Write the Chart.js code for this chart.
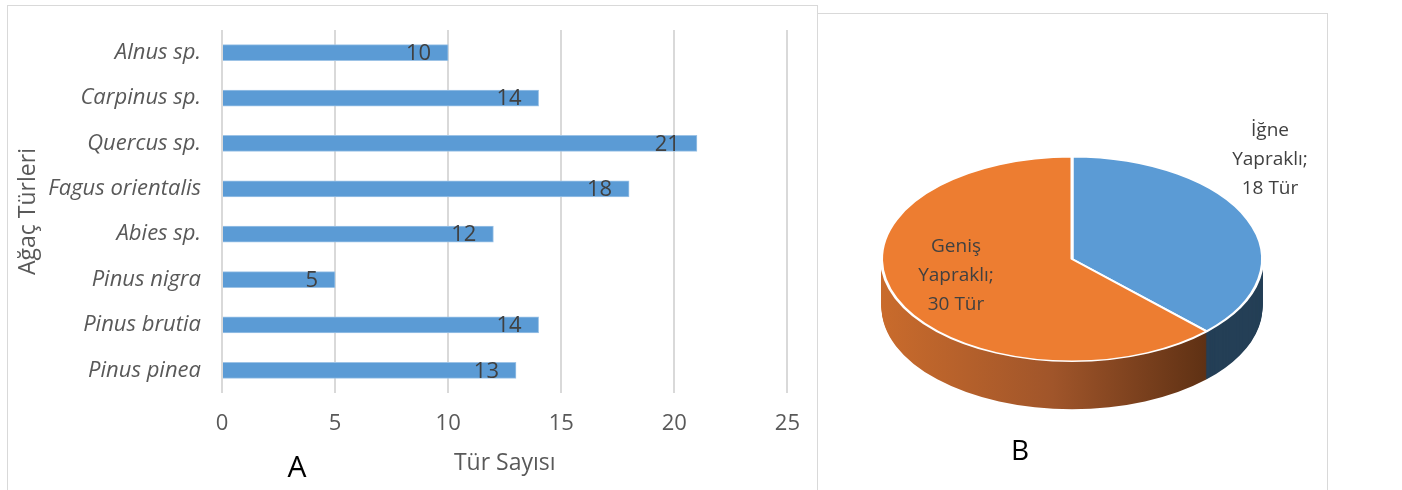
<!DOCTYPE html>
<html>
<head>
<meta charset="utf-8">
<script src="https://cdn.jsdelivr.net/npm/chart.js@4.4.1/dist/chart.umd.min.js"></script>
<style>
  body { margin: 0; background: #fff; width: 1402px; height: 490px; overflow: hidden; position: relative; font-family: 'Open Sans', sans-serif; }
  .box { position: absolute; border: 1.5px solid #d9d9d9; box-sizing: border-box; }
  .wrap { position: absolute; top: 0; height: 490px; }
  .tag { position: absolute; font-size: 30px; color: #000; line-height: 1; transform: translate(-50%, -50%); }
</style>
</head>
<body>
<div class="box" style="left:7px; top:5px; width:811px; height:520px;"></div>
<div class="box" style="left:817px; top:13px; width:511px; height:520px;"></div>
<div class="wrap" style="left:0; width:818px;"><canvas id="barA"></canvas></div>
<div class="wrap" style="left:818px; width:584px;"><canvas id="pieB"></canvas></div>
<div class="tag" style="left:297px; top:466px;">A</div>
<div class="tag" style="left:1020px; top:449px; font-size:28px;">B</div>
<script>
Chart.defaults.font.family = "'Open Sans', sans-serif";

// A - tree species
const agacTurleri = ["Alnus sp.", "Carpinus sp.", "Quercus sp.", "Fagus orientalis", "Abies sp.", "Pinus nigra", "Pinus brutia", "Pinus pinea"];
const turSayisi = [10, 14, 21, 18, 12, 5, 14, 13];
const xTicks = [0, 5, 10, 15, 20, 25];

// B - leaf type
const yaprakTipi = ["İğne Yapraklı", "Geniş Yapraklı"];
const yaprakSayisi = [18, 30];

const gray = "#595959";

// value labels at the inner end of each bar
const barLabels = {
  id: "barLabels",
  afterDatasetsDraw(chart) {
    const ctx = chart.ctx;
    ctx.save();
    ctx.font = "22px 'Open Sans'";
    ctx.fillStyle = "#404040";
    ctx.textAlign = "right";
    ctx.textBaseline = "middle";
    chart.getDatasetMeta(0).data.forEach((bar, i) => {
      ctx.fillText(turSayisi[i], bar.x - 17, bar.y + 1);
    });
    ctx.restore();
  }
};

new Chart(document.getElementById("barA"), {
  type: "bar",
  data: {
    labels: agacTurleri,
    datasets: [{
      data: turSayisi,
      backgroundColor: "#5B9BD5",
      borderColor: "#9DC3E6",
      borderWidth: 1,
      barThickness: 16
    }]
  },
  options: {
    indexAxis: "y",
    responsive: true,
    maintainAspectRatio: false,
    animation: false,
    layout: { padding: { top: 30, right: 29 } },
    plugins: { legend: { display: false }, tooltip: { enabled: false } },
    scales: {
      x: {
        min: 0, max: 25,
        afterBuildTicks: s => { s.ticks = xTicks.map(v => ({ value: v })); },
        ticks: { color: gray, font: { size: 22 }, padding: 18 },
        grid: { color: "#d9d9d9", lineWidth: 2, drawTicks: false },
        border: { display: false },
        title: { display: true, text: "Tür Sayısı", color: gray, font: { size: 23 }, padding: { top: 0, bottom: 13 } },
        afterFit: s => { s.height = 97; }
      },
      y: {
        ticks: { color: gray, font: { size: 22, style: "italic" }, padding: 21 },
        grid: { display: false, drawTicks: false },
        border: { display: false },
        title: { display: true, text: "Ağaç Türleri", color: gray, font: { size: 23 }, padding: { top: 15, bottom: 0 } },
        afterFit: s => { s.width = 222; s.paddingTop = 0; s.paddingBottom = 0; }
      }
    }
  },
  plugins: [barLabels]
});

// fake 3D: squash the pie and stack darker copies underneath
const tilt = 0.537;
const depth = 48;

const pie3d = {
  id: "pie3d",
  beforeDatasetsDraw(chart) {
    const ctx = chart.ctx;
    const arcs = chart.getDatasetMeta(0).data;
    const cx = arcs[0].x, cy = arcs[0].y, r = arcs[0].outerRadius;
    const side = ctx.createLinearGradient(cx - r, 0, cx + r, 0);
    side.addColorStop(0, "#C96B2C");
    side.addColorStop(0.45, "#A0552A");
    side.addColorStop(0.85, "#5F3114");
    side.addColorStop(1, "#5F3114");
    const sideColors = ["#243F56", side];
    for (let d = depth; d >= 1; d--) {
      ctx.save();
      ctx.translate(cx, cy + d);
      ctx.scale(1, tilt);
      ctx.translate(-cx, -cy);
      arcs.forEach((arc, i) => {
        const o = arc.options;
        arc.options = Object.assign({}, o, { backgroundColor: sideColors[i], borderWidth: 0 });
        arc.draw(ctx);
        arc.options = o;
      });
      ctx.restore();
    }
    ctx.save();
    ctx.translate(cx, cy);
    ctx.scale(1, tilt);
    ctx.translate(-cx, -cy);
  },
  afterDatasetsDraw(chart) {
    const ctx = chart.ctx;
    ctx.restore();
    const arc = chart.getDatasetMeta(0).data[0];
    const cx = arc.x, cy = arc.y;
    const spots = [[198, -128], [-116, -12]];
    ctx.save();
    ctx.font = "19px 'Open Sans'";
    ctx.fillStyle = "#404040";
    ctx.textAlign = "center";
    ctx.textBaseline = "middle";
    yaprakTipi.forEach((name, i) => {
      const words = name.split(" ");
      const lines = [words[0], words[1] + ";", yaprakSayisi[i] + " Tür"];
      lines.forEach((t, j) => ctx.fillText(t, cx + spots[i][0], cy + spots[i][1] + j * 29));
    });
    ctx.restore();
  }
};

new Chart(document.getElementById("pieB"), {
  type: "pie",
  data: {
    labels: yaprakTipi,
    datasets: [{
      data: yaprakSayisi,
      backgroundColor: ["#5B9BD5", "#ED7D31"],
      borderColor: "#ffffff",
      borderWidth: 3
    }]
  },
  options: {
    responsive: true,
    maintainAspectRatio: false,
    animation: false,
    layout: { padding: { left: 62, right: 138, top: 67, bottom: 39 } },
    plugins: { legend: { display: false }, tooltip: { enabled: false } }
  },
  plugins: [pie3d]
});
</script>
</body>
</html>
